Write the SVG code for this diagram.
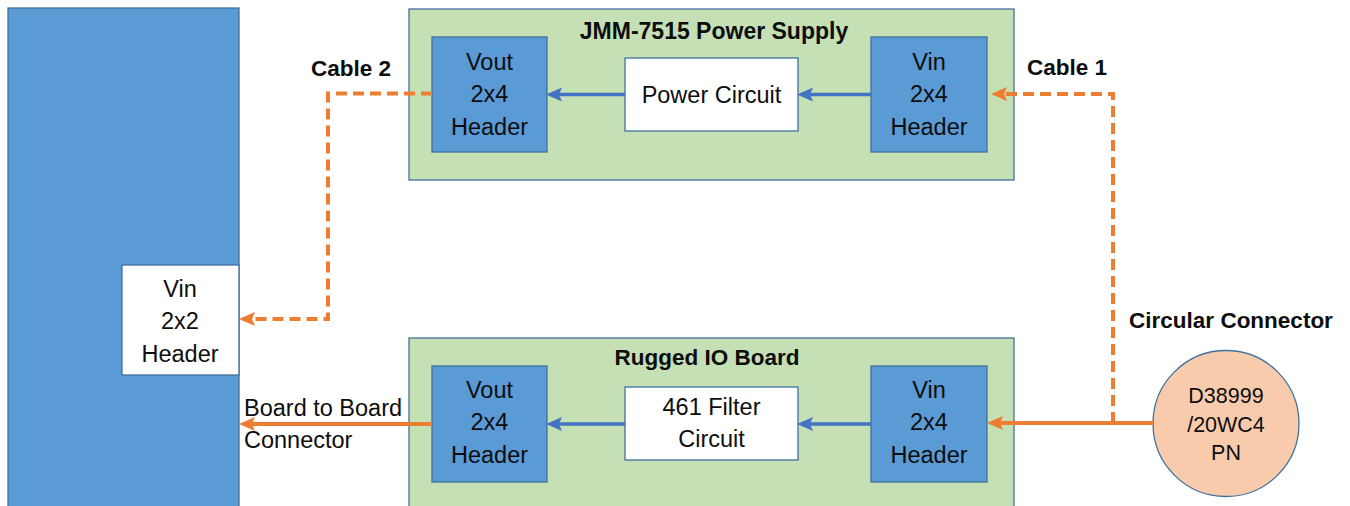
<svg xmlns="http://www.w3.org/2000/svg" width="1350" height="506" viewBox="0 0 1350 506">
<style>
.blue{fill:#5B9BD5;stroke:#41719C;stroke-width:1.3}
.green{fill:#C5E0B4;stroke:#41719C;stroke-width:1.3}
.white{fill:#FFFFFF;stroke:#41719C;stroke-width:1.3}
.circ{fill:#F8CBAD;stroke:#41719C;stroke-width:1.3}
text{font-family:"Liberation Sans",Arial,sans-serif;fill:#0d0d0d;text-anchor:middle}
.t{font-size:23.5px}
.b{font-size:22.5px;font-weight:bold}
.ti{font-size:23px;font-weight:bold}
.s{font-size:21.5px}
.l{text-anchor:start}
.bl{fill:none;stroke:#4472C4;stroke-width:3.5}
.or{fill:none;stroke:#ED7D31;stroke-width:4}
.dash{stroke-dasharray:11 6}
</style>
<defs>
<marker id="ab" viewBox="0 -8 17 16" markerWidth="17" markerHeight="16" refX="11" refY="0" orient="auto" markerUnits="userSpaceOnUse">
<path d="M0,-7 L16,0 L0,7 L3,0 z" fill="#4472C4"/>
</marker>
<marker id="ao" viewBox="0 -8 18 16" markerWidth="18" markerHeight="16" refX="12" refY="0" orient="auto" markerUnits="userSpaceOnUse">
<path d="M0,-7 L16,0 L0,7 L3,0 z" fill="#ED7D31"/>
</marker>
</defs>

<g id="main-board">
<rect class="blue" x="8" y="8" width="231" height="520"/>
</g>
<g id="vin-2x2">
<rect class="white" x="122" y="265" width="117" height="110"/>
<text class="t" x="180" y="297">Vin</text>
<text class="t" x="180" y="329">2x2</text>
<text class="t" x="180" y="362">Header</text>
</g>

<g id="power-supply">
<rect class="green" x="409" y="9" width="605" height="171"/>
<text class="ti" x="714" y="39">JMM-7515 Power Supply</text>
</g>
<g id="ps-vout">
<rect class="blue" x="432" y="37" width="115" height="115"/>
<text class="t" x="489.5" y="70">Vout</text>
<text class="t" x="489.5" y="102">2x4</text>
<text class="t" x="489.5" y="135">Header</text>
</g>
<g id="power-circuit">
<rect class="white" x="625" y="58" width="173" height="73"/>
<text class="t" x="711.5" y="103">Power Circuit</text>
</g>
<g id="ps-vin">
<rect class="blue" x="871" y="37" width="116" height="115"/>
<text class="t" x="929" y="70">Vin</text>
<text class="t" x="929" y="102">2x4</text>
<text class="t" x="929" y="135">Header</text>
</g>

<g id="io-board">
<rect class="green" x="409" y="338" width="605" height="190"/>
<text class="b" x="707" y="365">Rugged IO Board</text>
</g>
<g id="io-vout">
<rect class="blue" x="432" y="366" width="115" height="116"/>
<text class="t" x="489.5" y="398">Vout</text>
<text class="t" x="489.5" y="430">2x4</text>
<text class="t" x="489.5" y="463">Header</text>
</g>
<g id="filter-circuit">
<rect class="white" x="625" y="387" width="173" height="73"/>
<text class="t" x="711.5" y="415">461 Filter</text>
<text class="t" x="711.5" y="447">Circuit</text>
</g>
<g id="io-vin">
<rect class="blue" x="871" y="366" width="116" height="116"/>
<text class="t" x="929" y="398">Vin</text>
<text class="t" x="929" y="430">2x4</text>
<text class="t" x="929" y="463">Header</text>
</g>

<g id="circular-connector">
<circle class="circ" cx="1226" cy="423.5" r="73"/>
<text class="s" x="1226" y="403">D38999</text>
<text class="s" x="1226" y="432">/20WC4</text>
<text class="s" x="1226" y="460">PN</text>
</g>

<g id="connectors">
<path class="bl" d="M625,94.5 H551" marker-end="url(#ab)"/>
<path class="bl" d="M871,94.5 H802" marker-end="url(#ab)"/>
<path class="bl" d="M625,424 H551" marker-end="url(#ab)"/>
<path class="bl" d="M871,424 H802" marker-end="url(#ab)"/>
<path class="or dash" d="M432,93.5 H328 V319 H243" marker-end="url(#ao)"/>
<path class="or dash" d="M1113,423 V94 H995" marker-end="url(#ao)"/>
<path class="or" d="M1153,423 H991" marker-end="url(#ao)"/>
<path class="or" d="M432,424 H243" marker-end="url(#ao)"/>
</g>

<g id="labels">
<text class="b" x="351" y="76">Cable 2</text>
<text class="b" x="1067" y="75">Cable 1</text>
<text class="b" x="1231" y="328">Circular Connector</text>
<text class="t l" x="244" y="416">Board to Board</text>
<text class="t l" x="244" y="448">Connector</text>
</g>
</svg>
